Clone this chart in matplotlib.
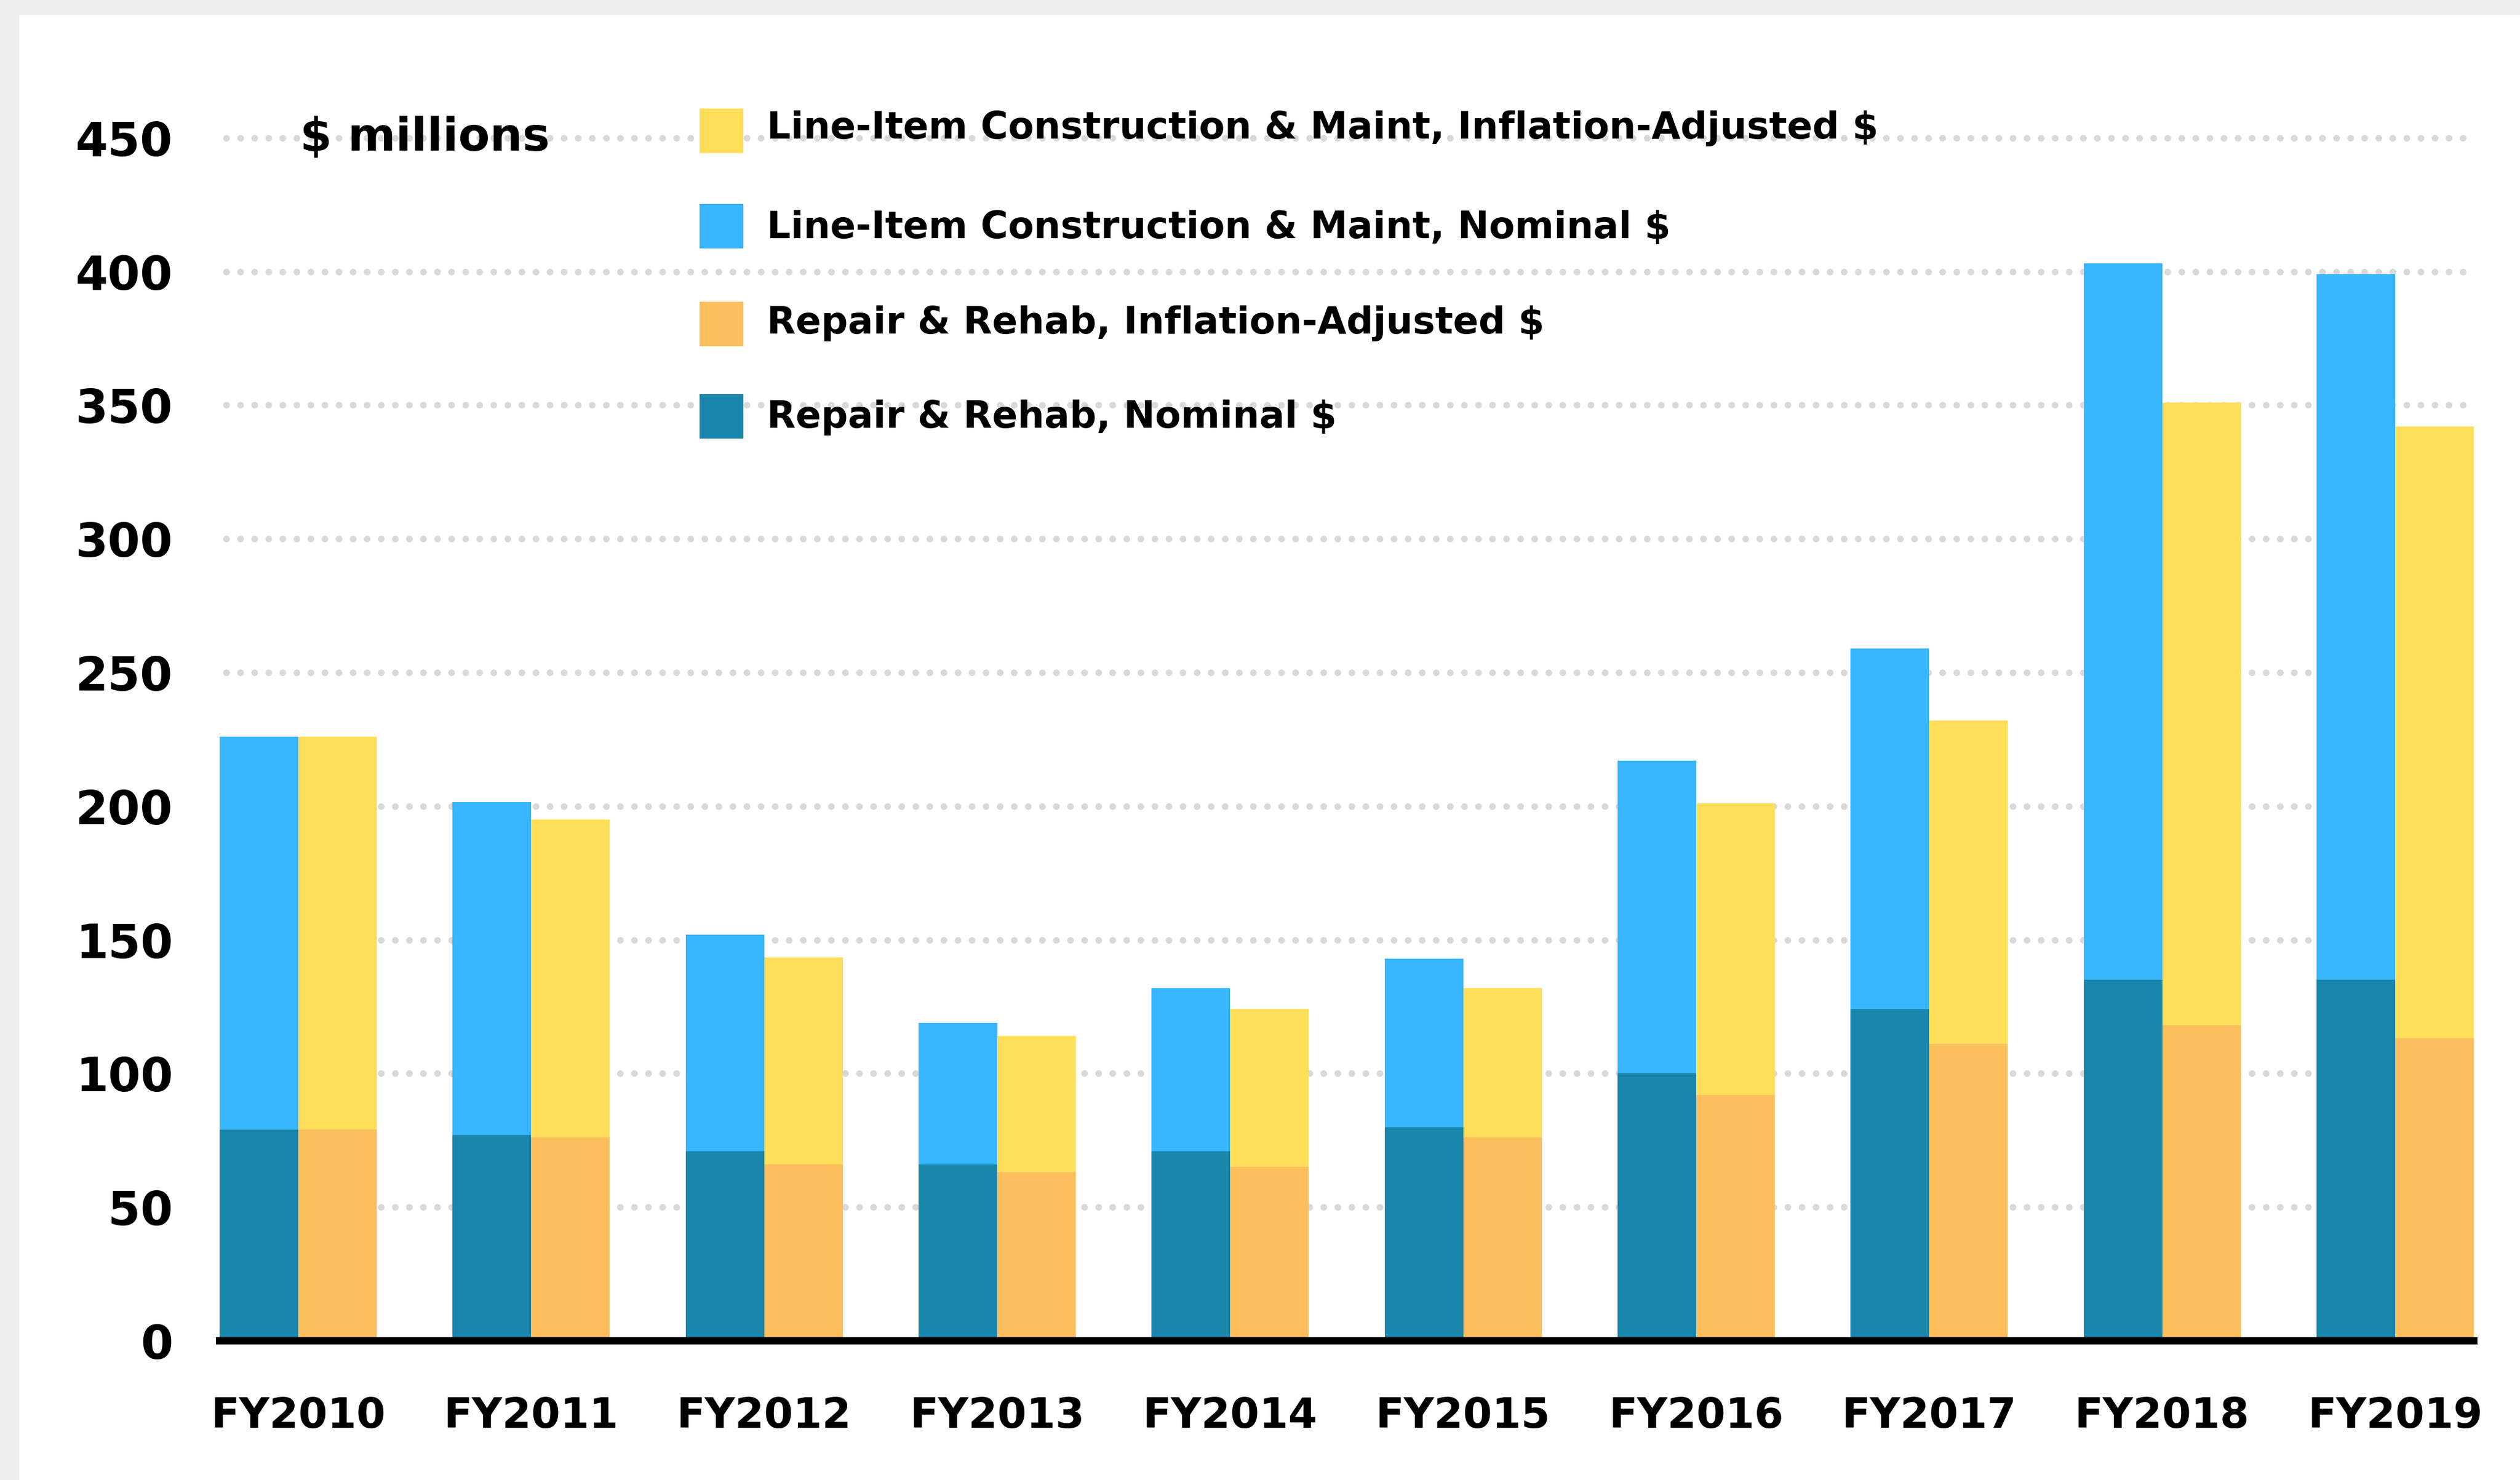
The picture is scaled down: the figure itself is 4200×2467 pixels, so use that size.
import numpy as np
import matplotlib.pyplot as plt
from matplotlib.patches import Rectangle

# Fiscal years on the x axis
years = ['FY2010', 'FY2011', 'FY2012', 'FY2013', 'FY2014',
         'FY2015', 'FY2016', 'FY2017', 'FY2018', 'FY2019']

# Repair & Rehab ($ millions), bottom of each stack
repair_nominal = [79, 77, 71, 66, 71, 80, 100, 124, 135, 135]
repair_adjusted = [79, 76, 66, 63, 65, 76, 92, 111, 118, 113]

# Line-item construction & maint ($ millions), stacked on top
line_item_nominal = [147, 124.5, 81, 53, 61, 63, 117, 135, 268, 264]
line_item_adjusted = [147, 119, 77.5, 51, 59, 56, 109, 121, 233, 229]

y_ticks = [0, 50, 100, 150, 200, 250, 300, 350, 400, 450]

legend_labels = ['Line-Item Construction & Maint, Inflation-Adjusted $',
                 'Line-Item Construction & Maint, Nominal $',
                 'Repair & Rehab, Inflation-Adjusted $',
                 'Repair & Rehab, Nominal $']

YELLOW = '#FFDE59'
BLUE = '#38B6FF'
ORANGE = '#FDBE5D'
TEAL = '#1A85AA'
legend_colors = [YELLOW, BLUE, ORANGE, TEAL]

W, H = 4200, 2467
fig = plt.figure(figsize=(W / 100, H / 100), dpi=100, facecolor='#f0f0f0')
# white panel, gray strip left and top
fig.patches.append(Rectangle((32 / W, 0), 1, 1 - 25 / H, transform=fig.transFigure,
                             facecolor='white', edgecolor='none', zorder=-5))

ax = fig.add_axes([366 / W, (H - 2235) / H, 3757 / W, 460 * 4.456 / H])
ax.set_zorder(2)
ax.set_facecolor('none')

x = np.arange(len(years))
w = 0.3374

ax.bar(x - w / 2, repair_nominal, w, color=TEAL, linewidth=0, zorder=2)
ax.bar(x - w / 2, line_item_nominal, w, bottom=repair_nominal, color=BLUE, linewidth=0, zorder=2)
ax.bar(x + w / 2, repair_adjusted, w, color=ORANGE, linewidth=0, zorder=2)
ax.bar(x + w / 2, line_item_adjusted, w, bottom=repair_adjusted, color=YELLOW, linewidth=0, zorder=2)

# dotted grid
grid = ax.hlines(y_ticks[1:], -0.31, 9.31, colors='#d9d9d9', linewidth=8,
                 linestyles=(0, (0.01, 2.1)), zorder=1)
grid.set_capstyle('round')

ax.axhline(0, color='black', linewidth=8.8, zorder=3, clip_on=False)

ax.set_xlim(-w, len(years) - 1 + w)
ax.set_ylim(0, 460)
for s in ax.spines.values():
    s.set_visible(False)

ax.set_yticks(y_ticks)
ax.set_yticklabels([str(t) for t in y_ticks], fontsize=56, fontweight='bold')
ax.set_xticks(x)
ax.set_xticklabels(years, fontsize=50, fontweight='bold')
ax.tick_params(axis='y', length=0, pad=56)
ax.tick_params(axis='x', length=0, pad=66)

fig.text(500 / W, 1 - 251 / H, '$ millions', fontsize=55, fontweight='bold', va='baseline')

patch_tops = [181, 340, 503, 657]
text_baselines = [231, 397, 556, 713]
for lab, col, top, base in zip(legend_labels, legend_colors, patch_tops, text_baselines):
    fig.patches.append(Rectangle((1166 / W, 1 - (top + 74) / H), 73 / W, 74 / H,
                                 transform=fig.transFigure, facecolor=col,
                                 edgecolor='none', zorder=3))
    fig.text(1278 / W, 1 - base / H, lab, fontsize=45, fontweight='bold', va='baseline')

fig.savefig('out.png', dpi=100, facecolor=fig.get_facecolor())
